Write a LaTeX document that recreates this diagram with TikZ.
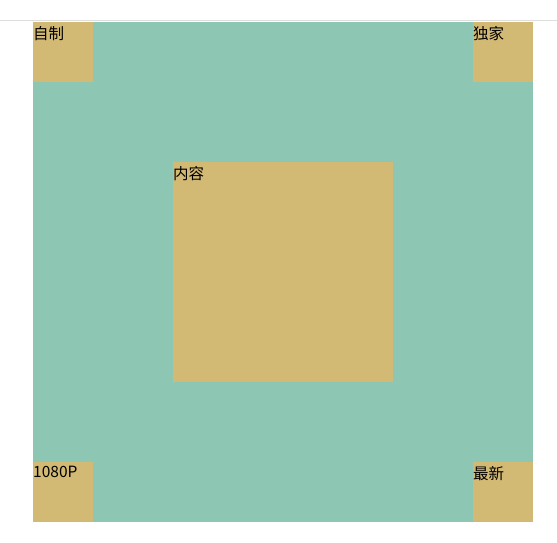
\documentclass[tikz,border=0pt]{standalone}
\usepackage{fontspec}
\setmainfont{Noto Sans CJK SC}
\usetikzlibrary{positioning}
\definecolor{boxgreen}{RGB}{141,198,179}
\definecolor{boxtan}{RGB}{210,185,116}
\definecolor{rulegray}{RGB}{222,222,222}

\begin{document}
\begin{tikzpicture}[x=1pt,y=-1pt,
  tile/.style={fill=boxtan,draw=none,inner sep=0pt,outer sep=0pt,anchor=north west},
  lbl/.style={anchor=north west,inner sep=0pt,font=\fontsize{15.5pt}{17pt}\selectfont}]
  \useasboundingbox (0,0) rectangle (557,543);
  \draw[rulegray,line width=1pt] (0,21) -- (557,21);
  \fill[boxgreen] (33,22) rectangle (533,522);
  % corners and middle
  \node[tile,minimum size=60pt] (zizhi) at (33,22) {};
  \node[tile,minimum size=60pt] (dujia) at (473,22) {};
  \node[tile,minimum size=60pt] (hd) at (33,462) {};
  \node[tile,minimum size=60pt] (zuixin) at (473,462) {};
  \node[tile,minimum size=220pt] (neirong) at (173,162) {};
  \node[lbl] (zizhi-t) at ([yshift=-4pt]zizhi.north west) {自制};
  \node[lbl] (dujia-t) at ([yshift=-4pt]dujia.north west) {独家};
  \node[lbl] (hd-t) at ([yshift=-4pt]hd.north west) {1080P};
  \node[lbl] (zuixin-t) at ([yshift=-4pt]zuixin.north west) {最新};
  \node[lbl] (neirong-t) at ([yshift=-4pt]neirong.north west) {内容};
\end{tikzpicture}
\end{document}
